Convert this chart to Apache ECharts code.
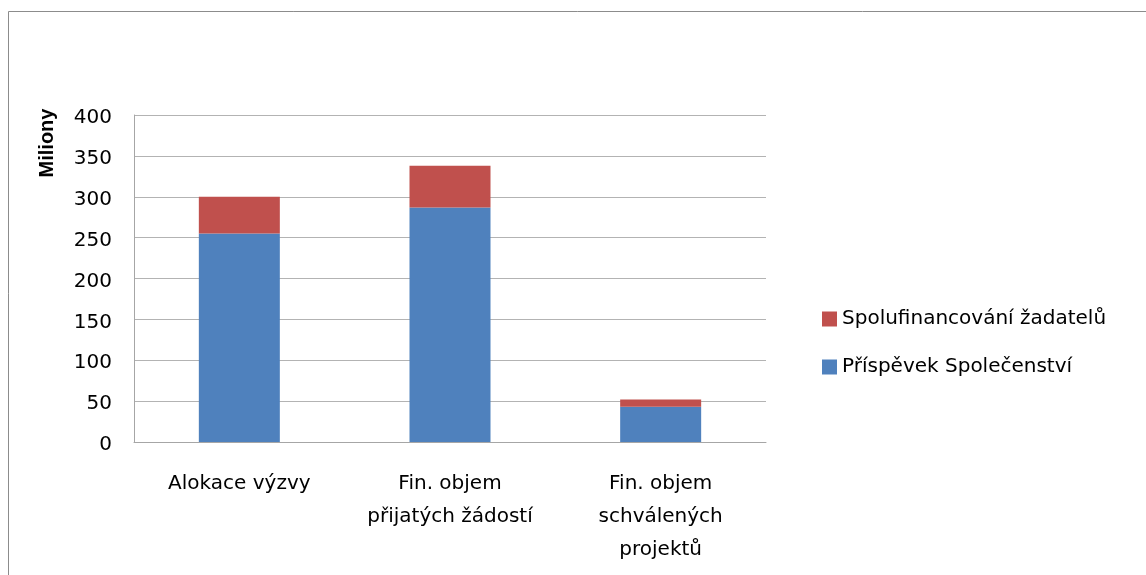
<!DOCTYPE html>
<html>
<head>
<meta charset="utf-8">
<script src="https://cdn.jsdelivr.net/npm/echarts@6/dist/echarts.min.js"></script>
<style>html,body{margin:0;padding:0;background:#fff}#c{width:1146px;height:575px}</style>
</head>
<body>
<div id="c"></div>
<script>
const categories = ['Alokace výzvy', 'Fin. objem\npřijatých žádostí', 'Fin. objem\nschválených\nprojektů'];
const seriesNames = ['Příspěvek Společenství', 'Spolufinancování žadatelů'];
const prispevek = [255, 287, 43];
const spolufinancovani = [45, 51, 9];
const yTicks = [0, 50, 100, 150, 200, 250, 300, 350, 400];
const axisName = 'Miliony';

const FONT = 'DejaVu Sans';
const chart = echarts.init(document.getElementById('c'), null, {renderer: 'canvas'});
chart.setOption({
  animation: false,
  backgroundColor: '#ffffff',
  graphic: [
    {type: 'rect', shape: {x: 8.5, y: 11.5, width: 1200, height: 620}, style: {fill: 'none', stroke: '#8c8c8c', lineWidth: 1}, silent: true},
    {type: 'text', x: 47, y: 143, rotation: Math.PI / 2, style: {text: axisName, font: 'bold 20px "Liberation Sans"', fill: '#000', align: 'center', verticalAlign: 'middle'}}
  ],
  grid: {left: 134, top: 115, right: 380, bottom: 133, containLabel: false},
  legend: {
    orient: 'vertical', left: 822, top: 309, padding: 0,
    data: [seriesNames[1], seriesNames[0]],
    itemWidth: 15, itemHeight: 15, itemGap: 28, icon: 'rect',
    textStyle: {fontFamily: FONT, fontSize: 20, color: '#000', lineHeight: 20, padding: [0, 0, 0, 0]}
  },
  xAxis: {
    type: 'category', data: categories,
    axisLine: {lineStyle: {color: '#a6a6a6'}},
    axisTick: {show: false},
    axisLabel: {fontFamily: FONT, fontSize: 20, color: '#000', margin: 25, lineHeight: 33, interval: 0}
  },
  yAxis: {
    type: 'value', min: 0, max: 400, interval: 50,
    axisLine: {show: true, lineStyle: {color: '#a6a6a6'}},
    axisTick: {show: false},
    splitLine: {lineStyle: {color: '#b3b3b3', width: 1}},
    axisLabel: {fontFamily: FONT, fontSize: 20, color: '#000', margin: 22,
      formatter: v => yTicks.includes(v) ? '{v|' + v + '}' : '',
      rich: {v: {fontFamily: FONT, fontSize: 20, color: '#000', padding: [6, 0, 0, 0]}}}
  },
  series: [
    {name: seriesNames[0], type: 'bar', stack: 's', data: prispevek, barWidth: 81, itemStyle: {color: '#4F81BD'}},
    {name: seriesNames[1], type: 'bar', stack: 's', data: spolufinancovani, barWidth: 81, itemStyle: {color: '#C0504D'}}
  ]
});
</script>
</body>
</html>
